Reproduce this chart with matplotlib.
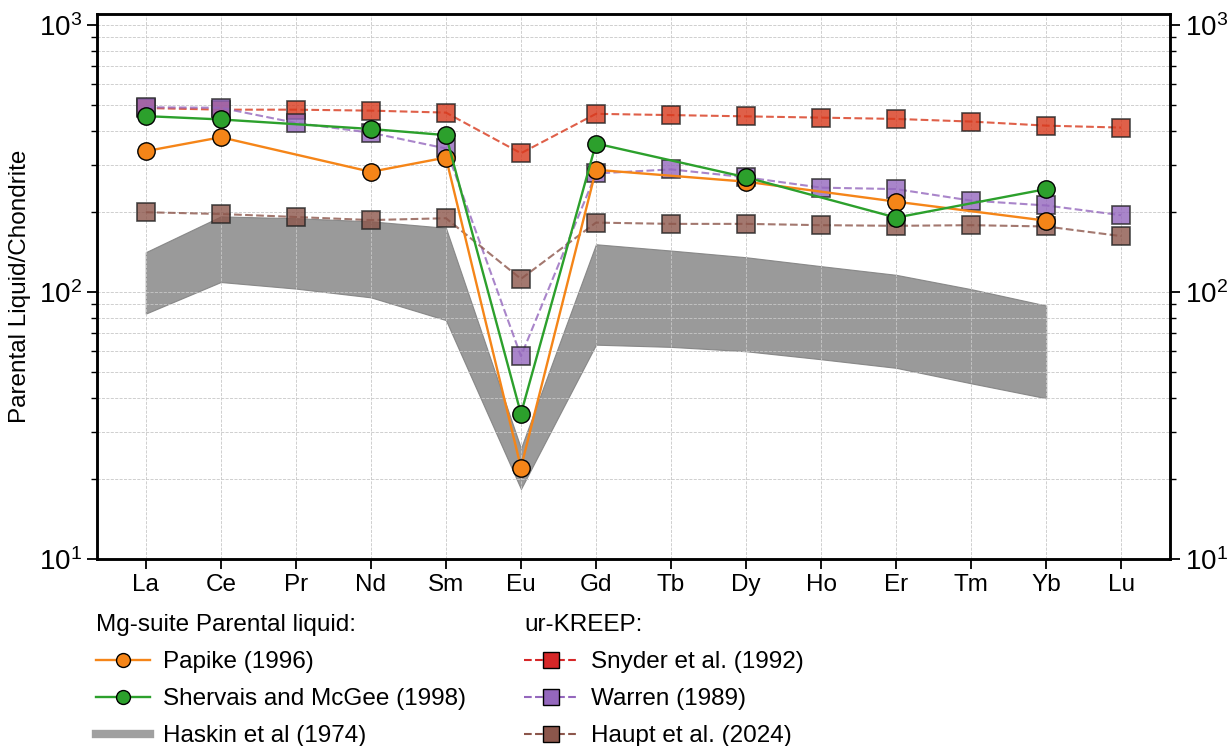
import numpy as np
import matplotlib
matplotlib.use("Agg")
import matplotlib.pyplot as plt
from matplotlib.lines import Line2D
from matplotlib.ticker import LogLocator, NullFormatter

plt.rcParams["font.family"] = ["Liberation Sans", "DejaVu Sans"]
plt.rcParams["mathtext.fontset"] = "custom"
plt.rcParams["mathtext.rm"] = "Liberation Sans"
plt.rcParams["mathtext.it"] = "Liberation Sans:italic"

# REE elements
elements = ["La", "Ce", "Pr", "Nd", "Sm", "Eu", "Gd", "Tb", "Dy", "Ho", "Er", "Tm", "Yb", "Lu"]
nan = np.nan

# Mg-suite parental liquids
papike = [337, 380, nan, 282, 319, 22, 287, nan, 259, nan, 218, nan, 185, nan]
shervais = [456, 443, nan, 408, 387, 35, 360, nan, 269, nan, 190, nan, 243, nan]

# Haskin et al (1974) band
haskin_upper = [141, 192, 189, 184, 174, 26, 151, 143, 135, 125, 116, 102.5, 89, nan]
haskin_lower = [83, 109, 103, 95.5, 78.5, 18.3, 63.5, 62.3, 60, 56, 52, 45.5, 40, nan]

# ur-KREEP
snyder = [489, 482, 482, 478, 470, 331, 465, 460, 455, 450, 445, 435, 420, 413]
warren = [492, 490, 430, 395, 345, 57.5, 278, 288, 269, 246, 243, 220, 211, 194]
haupt = [199, 196, 191, 186, 189, 112, 182, 180, 180, 178, 177, 178, 176, 162]

x = np.arange(len(elements))

fig = plt.figure(figsize=(12.31, 7.46), dpi=100)
ax = fig.add_axes([97 / 1231, 1 - 559 / 746, (1170 - 97) / 1231, (559 - 14) / 746])

# band
hu = np.array(haskin_upper)
hl = np.array(haskin_lower)
m = ~np.isnan(hu)
ax.fill_between(x[m], hl[m], hu[m], color="#8c8c8c", alpha=0.88, edgecolor="#808080", linewidth=0.8)

# ur-KREEP squares
for vals, col in [(snyder, "#d8381c"), (warren, "#9467bd"), (haupt, "#8c564b")]:
    ax.plot(x, vals, ls="--", lw=1.5, color=col, marker="s", ms=12.5,
            mec="#222222", mew=1.2, alpha=0.8)

# Mg-suite circles
for vals, col in [(papike, "#f58518"), (shervais, "#2ca02c")]:
    v = np.array(vals, dtype=float)
    mm = ~np.isnan(v)
    ax.plot(x[mm], v[mm], ls="-", lw=1.7, color=col, marker="o", ms=12.5,
            mec="black", mew=1.0)

ax.set_yscale("log")
ax.set_ylim(10, 1100)
ax.set_xlim(-0.65, 13.65)
ax.set_xticks(x)
ax.set_xticklabels(elements, fontsize=17.5)
ax.set_ylabel("Parental Liquid/Chondrite", fontsize=17.5, labelpad=6)
ax.yaxis.set_major_locator(LogLocator(base=10, numticks=5))
ax.yaxis.set_minor_locator(LogLocator(base=10, subs=np.arange(2, 10), numticks=20))
ax.yaxis.set_minor_formatter(NullFormatter())
ax.tick_params(axis="y", which="major", labelsize=20, length=7, width=1.3, direction="out")
ax.tick_params(axis="y", which="minor", length=4, width=1.0, direction="out")
ax.tick_params(axis="x", length=7, width=1.3, direction="out")
ax.grid(True, which="both", ls="--", lw=0.6, color="#c8c8c8")
for s in ax.spines.values():
    s.set_linewidth(1.8)

ax2 = ax.twinx()
ax2.set_yscale("log")
ax2.set_ylim(ax.get_ylim())
ax2.yaxis.set_major_locator(LogLocator(base=10, numticks=5))
ax2.yaxis.set_minor_locator(LogLocator(base=10, subs=np.arange(2, 10), numticks=20))
ax2.yaxis.set_minor_formatter(NullFormatter())
ax2.tick_params(axis="y", which="major", labelsize=20, length=7, width=1.3, direction="out")
ax2.tick_params(axis="y", which="minor", length=4, width=1.0, direction="out")
for s in ax2.spines.values():
    s.set_linewidth(1.8)

# legends
h1 = [
    Line2D([], [], color="#f58518", lw=1.7, marker="o", ms=10, mfc="#f58518", mec="black"),
    Line2D([], [], color="#2ca02c", lw=1.7, marker="o", ms=10, mfc="#2ca02c", mec="black"),
    Line2D([], [], color="#a0a0a0", lw=6),
]
l1 = ["Papike (1996)", "Shervais and McGee (1998)", "Haskin et al (1974)"]
h2 = [
    Line2D([], [], color="#d62728", lw=1.5, ls="--", marker="s", ms=12, mec="black"),
    Line2D([], [], color="#9467bd", lw=1.5, ls="--", marker="s", ms=12, mec="black"),
    Line2D([], [], color="#8c564b", lw=1.5, ls="--", marker="s", ms=12, mec="black"),
]
l2 = ["Snyder et al. (1992)", "Warren (1989)", "Haupt et al. (2024)"]

leg_kw = dict(loc="upper left", frameon=False, fontsize=17.5, title_fontsize=17.5,
              alignment="left", handlelength=2.2, handletextpad=0.55,
              labelspacing=0.62, borderpad=0)
leg1 = fig.legend(h1, l1, title="Mg-suite Parental liquid:",
                  bbox_to_anchor=(84 / 1231, 1 - 602 / 746), **leg_kw)
leg2 = fig.legend(h2, l2, title="ur-KREEP:",
                  bbox_to_anchor=(512 / 1231, 1 - 602 / 746), **leg_kw)

fig.savefig("out.png", dpi=100)
